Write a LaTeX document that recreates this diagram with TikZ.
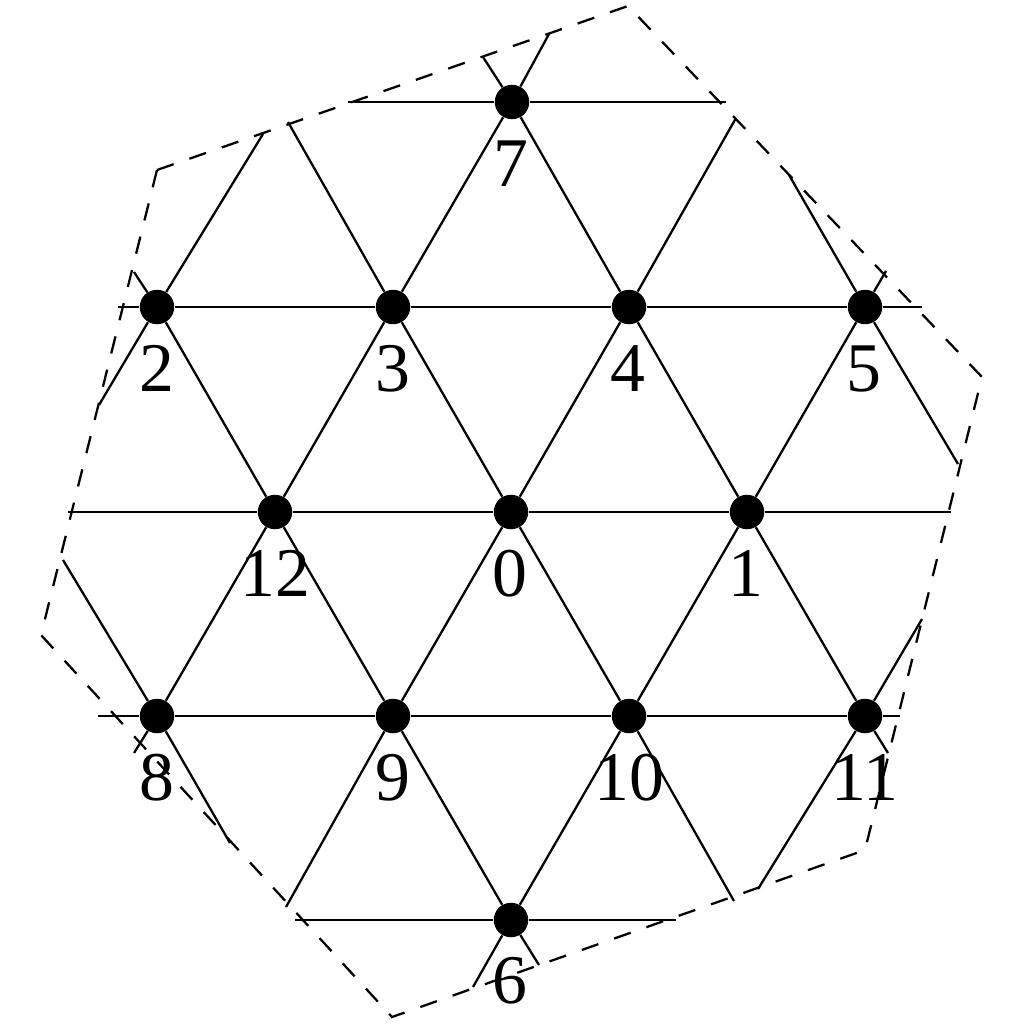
\documentclass[tikz,border=0pt]{standalone}
\usepackage{fontspec}
\setmainfont{Liberation Serif}
\begin{document}
\begin{tikzpicture}[x=0.02cm, y=-0.02cm,
  dot/.style={circle, fill=black, draw=none, inner sep=0pt, minimum size=0.69cm},
  lab/.style={anchor=base, inner sep=0pt, font=\fontsize{39.7}{40}\selectfont},
  edge/.style={line width=1.3pt},
  cell/.style={line width=1.3pt, dash pattern=on 10pt off 9.5pt}]
\useasboundingbox (0,0) rectangle (1024,1024);
% lattice sites
\node[dot] (n7)  at (512,102) {};
\node[dot] (n2)  at (157,307) {};
\node[dot] (n3)  at (393,307) {};
\node[dot] (n4)  at (629,307) {};
\node[dot] (n5)  at (865,307) {};
\node[dot] (n12) at (275,512) {};
\node[dot] (n0)  at (511,512) {};
\node[dot] (n1)  at (747,512) {};
\node[dot] (n8)  at (157,716) {};
\node[dot] (n9)  at (393,716) {};
\node[dot] (n10) at (629,716) {};
\node[dot] (n11) at (865,716) {};
\node[dot] (n6)  at (511,920) {};
% labels
\node[lab] (l7)  at (511,186) {7};
\node[lab] (l2)  at (157,391) {2};
\node[lab] (l3)  at (393,391) {3};
\node[lab] (l4)  at (628,391) {4};
\node[lab] (l5)  at (864,391) {5};
\node[lab] (l12) at (275,596) {12};
\node[lab] (l0)  at (510,596) {0};
\node[lab] (l1)  at (746,596) {1};
\node[lab] (l8)  at (157,800) {8};
\node[lab] (l9)  at (393,800) {9};
\node[lab] (l10) at (629,800) {10};
\node[lab] (l11) at (865,800) {11};
\node[lab] (l6)  at (510,1003) {6};
% free ends
\coordinate (h1a) at (348,102);  \coordinate (h1b) at (726,102);
\coordinate (h2a) at (118,307);  \coordinate (h2b) at (922,307);
\coordinate (h3a) at (68,512);   \coordinate (h3b) at (951,512);
\coordinate (h4a) at (98,716);   \coordinate (h4b) at (900,716);
\coordinate (h5a) at (295,920);  \coordinate (h5b) at (676,920);
\coordinate (s1a) at (263,134);  \coordinate (s1b) at (99,405);
\coordinate (s2a) at (549,34);   \coordinate (s2b) at (134,753);
\coordinate (s3a) at (736,118);  \coordinate (s3b) at (286,907);
\coordinate (s4a) at (886,271);  \coordinate (s4b) at (473,987);
\coordinate (s5a) at (922,619);  \coordinate (s5b) at (758,889);
\coordinate (b1a) at (63,560);   \coordinate (b1b) at (230,843);
\coordinate (b2a) at (134,272);  \coordinate (b2b) at (539,965);
\coordinate (b3a) at (288,122);  \coordinate (b3b) at (734,901);
\coordinate (b4a) at (483,57);   \coordinate (b4b) at (888,753);
\coordinate (b5a) at (789,175);  \coordinate (b5b) at (958,464);
% horizontal lines
\draw[edge] (h1a) -- (n7) -- (h1b);
\draw[edge] (h2a) -- (n2) -- (n3) -- (n4) -- (n5) -- (h2b);
\draw[edge] (h3a) -- (n12) -- (n0) -- (n1) -- (h3b);
\draw[edge] (h4a) -- (n8) -- (n9) -- (n10) -- (n11) -- (h4b);
\draw[edge] (h5a) -- (n6) -- (h5b);
% rising diagonals
\draw[edge] (s1a) -- (n2) -- (s1b);
\draw[edge] (s2a) -- (n7) -- (n3) -- (n12) -- (n8) -- (s2b);
\draw[edge] (s3a) -- (n4) -- (n0) -- (n9) -- (s3b);
\draw[edge] (s4a) -- (n5) -- (n1) -- (n10) -- (n6) -- (s4b);
\draw[edge] (s5a) -- (n11) -- (s5b);
% falling diagonals
\draw[edge] (b1a) -- (n8) -- (b1b);
\draw[edge] (b2a) -- (n2) -- (n12) -- (n9) -- (n6) -- (b2b);
\draw[edge] (b3a) -- (n3) -- (n0) -- (n10) -- (b3b);
\draw[edge] (b4a) -- (n7) -- (n4) -- (n1) -- (n11) -- (b4b);
\draw[edge] (b5a) -- (n5) -- (b5b);
% cell boundary
\coordinate (c1) at (628,6);
\coordinate (c2) at (982,377);
\coordinate (c3) at (865,850);
\coordinate (c4) at (392,1017);
\coordinate (c5) at (41,635);
\coordinate (c6) at (157,170);
\draw[cell] (c6) -- (c1) -- (c2) -- (c3) -- (c4) -- (c5) -- cycle;
\end{tikzpicture}
\end{document}
